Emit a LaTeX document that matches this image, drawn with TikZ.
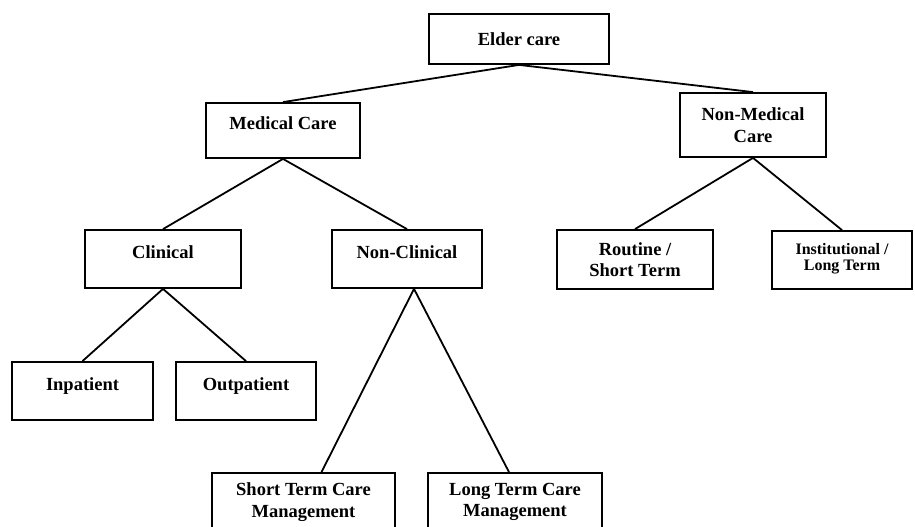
\documentclass[tikz,border=0pt]{standalone}
\usepackage{fontspec}
\setmainfont{Liberation Serif}
\usepackage{tikz}
\tikzstyle{care}=[rectangle,draw=black,fill=white,inner sep=0mm,align=center,font=\bfseries\fontsize{18.5}{21.5}\selectfont]
\tikzstyle{care1}=[care,text height=13pt,text depth=15pt]
\tikzstyle{small}=[care,font=\bfseries\fontsize{16}{15.5}\selectfont,text depth=6pt]
\tikzset{every picture/.style={
    line width=1.8
  }
}

\begin{document}
\begin{tikzpicture}[x=1pt,y=-1pt]
      \clip (0,0) rectangle (915,527);
      \node[care,minimum width=180pt,minimum height=50pt] at (519,39) (elder) {Elder care};
      \node[care1,minimum width=154pt,minimum height=55pt] at (283,130.5) (med) {Medical Care};
      \node[care,minimum width=146pt,minimum height=64pt] at (753,125) (nonmed) {Non-Medical\\Care};
      \node[care1,minimum width=156pt,minimum height=58pt] at (163,259) (clin) {Clinical};
      \node[care1,minimum width=150pt,minimum height=58pt] at (407,259) (nonclin) {Non-Clinical};
      \node[care,minimum width=156pt,minimum height=59pt] at (635,259.5) (routine) {Routine /\\Short Term};
      \node[small,minimum width=140pt,minimum height=58pt] at (842,260) (inst) {Institutional /\\Long Term};
      \node[care1,minimum width=141pt,minimum height=58pt] at (82.5,391) (inpat) {Inpatient};
      \node[care1,minimum width=140pt,minimum height=58pt] at (246,391) (outpat) {Outpatient};
      \node[care,minimum width=183pt,minimum height=58pt] at (303.5,502) (stcm) {Short Term Care\\Management};
      \node[care,minimum width=174pt,minimum height=58pt] at (515,502) (ltcm) {Long Term Care\\Management};
      \draw (elder.south) -- (med.north);
      \draw (elder.south) -- (nonmed.north);
      \draw (med.south) -- (clin.north);
      \draw (med.south) -- (nonclin.north);
      \draw (nonmed.south) -- (routine.north);
      \draw (nonmed.south) -- (inst.north);
      \draw (clin.south) -- (inpat.north);
      \draw (clin.south) -- (outpat.north);
      \draw ([xshift=7pt]nonclin.south) -- ([xshift=18pt]stcm.north);
      \draw ([xshift=7pt]nonclin.south) -- ([xshift=-6pt]ltcm.north);
    \end{tikzpicture}
\end{document}
